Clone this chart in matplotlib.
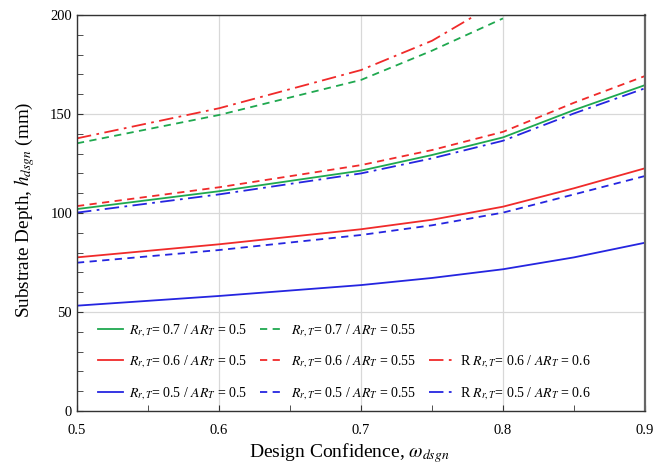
import numpy as np
import matplotlib
matplotlib.use('Agg')
import matplotlib.pyplot as plt
from matplotlib.lines import Line2D
from matplotlib.ticker import MultipleLocator

plt.rcParams['font.family'] = ['Liberation Serif', 'DejaVu Serif']
plt.rcParams['mathtext.fontset'] = 'stix'

x = [0.5, 0.6, 0.7, 0.75, 0.8, 0.85, 0.9]

# R_rT = 0.7
g_050 = [102.0, 111.0, 121.4, 129.3, 138.2, 152.0, 164.6]
g_055_x = [0.5, 0.6, 0.7, 0.75, 0.8]
g_055 = [135.2, 149.5, 167.2, 182.0, 198.3]
# R_rT = 0.6
r_050 = [77.6, 84.2, 91.8, 96.6, 103.2, 112.5, 122.6]
r_055 = [103.5, 113.0, 124.2, 131.8, 141.0, 155.7, 169.2]
r_060_x = [0.5, 0.6, 0.7, 0.75, 0.8]
r_060 = [137.7, 152.9, 172.2, 187.0, 208.0]
# R_rT = 0.5
b_050 = [53.2, 58.1, 63.6, 67.2, 71.6, 77.6, 85.0]
b_055 = [74.9, 81.3, 88.9, 93.8, 100.2, 109.4, 118.7]
b_060 = [100.2, 109.4, 120.0, 127.6, 136.5, 150.3, 163.0]

green = '#1fa84f'
red = '#f02a2a'
blue = '#2525e0'


def lab(r, ar, prefix=''):
    return prefix + r'$R_{r,T}$= ' + r + r' / $AR_T$ = ' + ar


def main():
    fig = plt.figure(figsize=(6.66, 4.65), dpi=100)
    ax = fig.add_axes([0.1156, 0.1161, 0.8529, 0.8516])

    lw = 1.3
    l1, = ax.plot(x, g_050, color=green, lw=lw, ls='-')
    l2, = ax.plot(g_055_x, g_055, color=green, lw=lw, ls=(0, (4, 3)))
    l3, = ax.plot(x, r_050, color=red, lw=lw, ls='-')
    l4, = ax.plot(x, r_055, color=red, lw=lw, ls=(0, (4, 3)))
    l5, = ax.plot(r_060_x, r_060, color=red, lw=lw, ls=(0, (8, 3, 1.5, 3)))
    l6, = ax.plot(x, b_050, color=blue, lw=lw, ls='-')
    l7, = ax.plot(x, b_055, color=blue, lw=lw, ls=(0, (4, 3)))
    l8, = ax.plot(x, b_060, color=blue, lw=lw, ls=(0, (8, 3, 1.5, 3)))

    ax.set_xlim(0.5, 0.9)
    ax.set_ylim(0, 200)
    ax.xaxis.set_major_locator(MultipleLocator(0.1))
    ax.xaxis.set_minor_locator(MultipleLocator(0.05))
    ax.yaxis.set_major_locator(MultipleLocator(50))
    ax.yaxis.set_minor_locator(MultipleLocator(10))
    ax.set_xticks([0.5, 0.6, 0.7, 0.8, 0.9])
    ax.set_xticklabels(['0.5', '0.6', '0.7', '0.8', '0.9'])
    ax.tick_params(which='both', direction='in', top=False, right=False,
                   labelsize=10.5, color='#333333')
    ax.tick_params(which='major', length=4)
    ax.tick_params(which='minor', length=4)
    ax.tick_params(axis='x', pad=9)
    ax.grid(True, which='major', color='#d8d8d8', lw=0.9)
    ax.set_axisbelow(True)
    for s in ax.spines.values():
        s.set_color('#333333')
        s.set_linewidth(1.0)
    ax.spines['right'].set_color('#666666')
    ax.spines['right'].set_linewidth(1.6)

    ax.set_xlabel(r'Design Confidence, $\omega_{dsgn}$', fontsize=14)
    ax.set_ylabel(r'Substrate Depth, $h_{dsgn}$ (mm)', fontsize=13.8)
    ax.xaxis.set_label_coords(0.48, -0.077)
    ax.yaxis.set_label_coords(-0.07, 0.508)

    blank = Line2D([], [], color='none')
    handles = [l1, l3, l6, l2, l4, l7, blank, l5, l8]
    labels = [lab('0.7', '0.5'), lab('0.6', '0.5'), lab('0.5', '0.5'),
              lab('0.7', '0.55'), lab('0.6', '0.55'), lab('0.5', '0.55'),
              lab('0.6', '0.6', 'R '), lab('0.6', '0.6', 'R '),
              lab('0.5', '0.6', 'R ')]
    leg = ax.legend(handles, labels, ncol=3, loc='lower left',
                    bbox_to_anchor=(0.015, -0.008), frameon=False,
                    fontsize=10, handlelength=1.8, handletextpad=0.45,
                    columnspacing=0.9, labelspacing=1.05)
    leg.get_texts()[6].set_visible(False)

    fig.savefig('out.png', dpi=100)


if __name__ == '__main__':
    main()
